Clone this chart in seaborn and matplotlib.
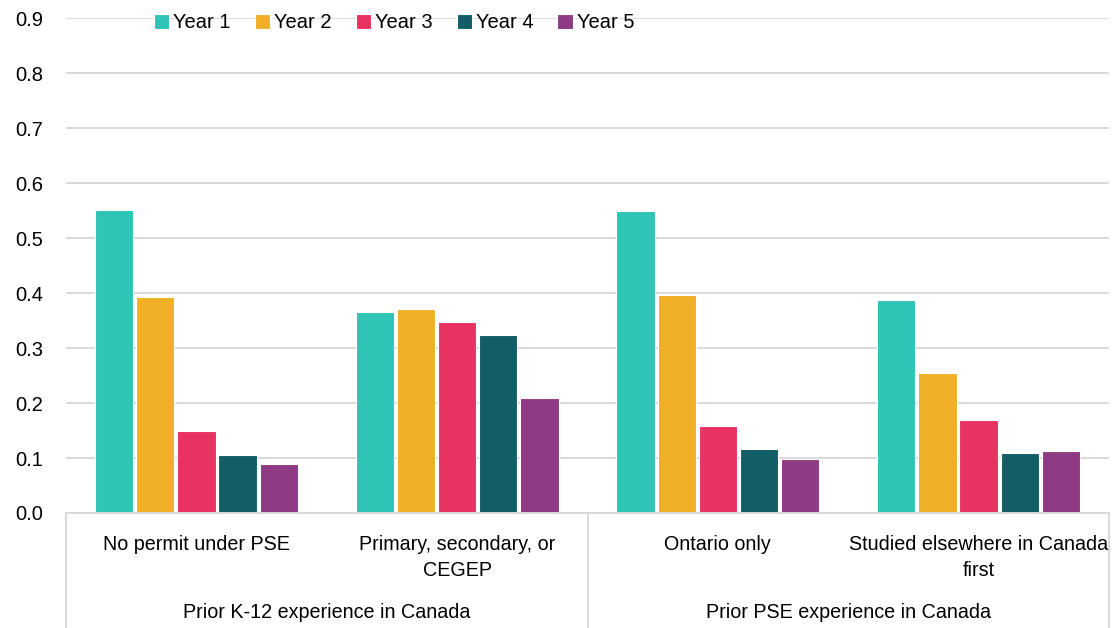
import matplotlib
matplotlib.use("Agg")
import matplotlib.pyplot as plt
import matplotlib.transforms as mtransforms
import seaborn as sns
import pandas as pd

# data
categories = ["No permit under PSE", "Primary, secondary, or\nCEGEP",
              "Ontario only", "Studied elsewhere in Canada\nfirst"]
groups = ["Prior K-12 experience in Canada", "Prior PSE experience in Canada"]
years = ["Year 1", "Year 2", "Year 3", "Year 4", "Year 5"]
year1 = [0.551, 0.366, 0.549, 0.387]
year2 = [0.393, 0.371, 0.396, 0.255]
year3 = [0.149, 0.347, 0.159, 0.169]
year4 = [0.105, 0.323, 0.117, 0.110]
year5 = [0.090, 0.209, 0.098, 0.113]
y_ticks = [0.0, 0.1, 0.2, 0.3, 0.4, 0.5, 0.6, 0.7, 0.8, 0.9]

palette = ["#2EC4B6", "#EFB028", "#E83362", "#115E67", "#8E3A85"]
grid_color = "#D9D9D9"

rows = []
for year, vals in zip(years, [year1, year2, year3, year4, year5]):
    for i, v in enumerate(vals):
        rows.append({"pos": i, "year": year, "value": v})
df = pd.DataFrame(rows)

sns.set_theme(style="white")
plt.rcParams["font.family"] = ["Liberation Sans", "DejaVu Sans"]
plt.rcParams["text.color"] = "black"
fs = 14.5
fs_cat = 14.2

W, H = 1112, 628
fig = plt.figure(figsize=(W / 100, H / 100), dpi=100)
ax_left, ax_right, ax_bottom, ax_top = 66, 1109, 513, 18.3
ax = fig.add_axes([ax_left / W, 1 - ax_bottom / H,
                   (ax_right - ax_left) / W, (ax_bottom - ax_top) / H])

sns.barplot(data=df, x="pos", y="value", hue="year", palette=palette,
            saturation=1, width=0.79, gap=0.07, edgecolor="white",
            linewidth=0.8, native_scale=True, ax=ax)

ax.set_xlim(-0.5, 3.5)
ax.set_ylim(0, 0.9)
ax.set_yticks(y_ticks)
ax.set_yticklabels([f"{t:.1f}" for t in y_ticks], fontsize=fs, color="black")
ax.tick_params(axis="y", length=0, pad=16.5)
ax.set_xticks([])
ax.set_xlabel("")
ax.set_ylabel("")
ax.yaxis.grid(True, color=grid_color, linewidth=1.4)
ax.set_axisbelow(True)
for side in ["top", "right", "left"]:
    ax.spines[side].set_visible(False)
ax.spines["bottom"].set_color(grid_color)
ax.spines["bottom"].set_linewidth(1.4)

# multi-level category axis
trans = mtransforms.blended_transform_factory(ax.transData, fig.transFigure)
for i, lab in enumerate(categories):
    for j, line in enumerate(lab.split("\n")):
        ax.text(i, 1 - (544 + 26 * j) / H, line, transform=trans,
                ha="center", va="center", fontsize=fs_cat, color="black")
for g, lab in enumerate(groups):
    ax.text(0.5 + 2 * g, 1 - 612 / H, lab, transform=trans,
            ha="center", va="center", fontsize=fs_cat, color="black")
for xs in [-0.5, 1.5, 3.5]:
    ax.plot([xs, xs], [1 - ax_bottom / H, 0], transform=trans,
            color=grid_color, linewidth=1.4, clip_on=False)

handles, labels = ax.get_legend_handles_labels()
leg = ax.legend(handles, labels, ncol=5, frameon=False, fontsize=fs,
                loc="center left", bbox_to_anchor=(154 / W, 1 - 23 / H),
                bbox_transform=fig.transFigure, borderaxespad=0, borderpad=0,
                handlelength=0.75, handleheight=0.75, handletextpad=0.2,
                columnspacing=1.2)
for t in leg.get_texts():
    t.set_color("black")

fig.savefig("out.png", dpi=100)
